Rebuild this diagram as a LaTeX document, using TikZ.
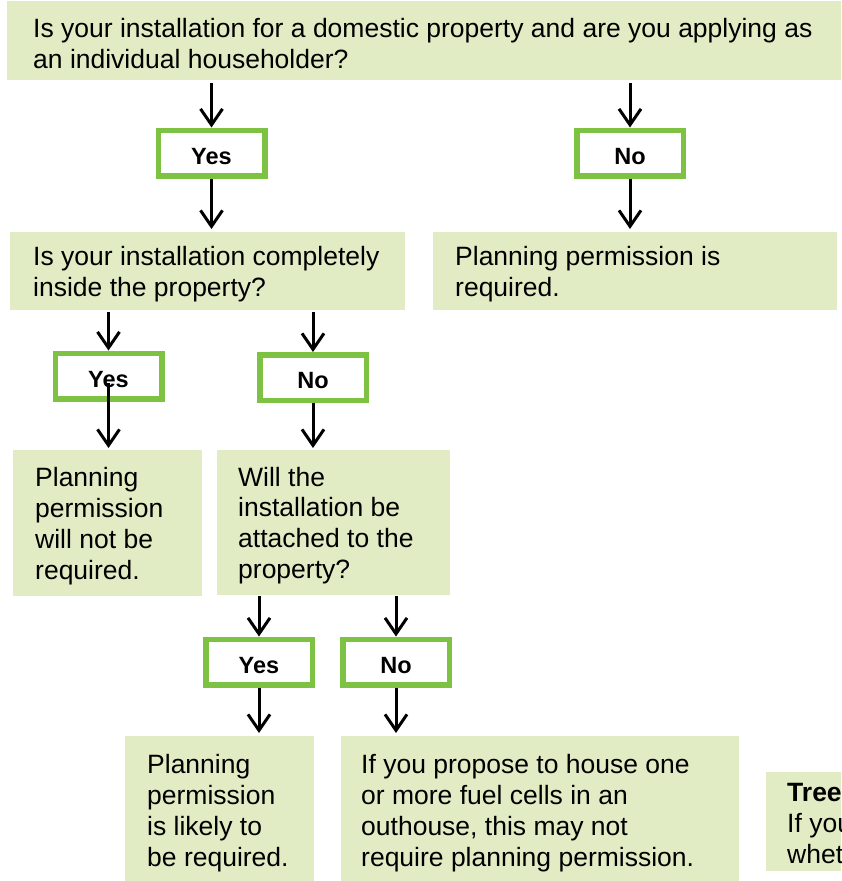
\documentclass[tikz,border=0pt]{standalone}
\usepackage{fontspec}
\setmainfont{Liberation Sans}
\usetikzlibrary{arrows.meta}
\definecolor{boxfill}{HTML}{E2ECC4}
\definecolor{boxgreen}{HTML}{7DC242}
\tikzset{
  pbox/.style={fill=boxfill, draw=none, inner sep=0pt, outer sep=0pt, rectangle},
  ptext/.style={inner sep=0pt, align=left, anchor=west, font=\fontsize{26.5}{30.8}\selectfont},
  yn/.style={draw=boxgreen, line width=5.5pt, fill=white, minimum width=106.5pt, minimum height=45.5pt, inner sep=0pt, text height=22.5pt, text depth=0pt, font=\fontsize{23.5}{27}\selectfont\bfseries},
  arr/.style={-{Straight Barb[length=16pt,width=22pt]}, line width=3pt}
}
\begin{document}
\begin{tikzpicture}[x=1pt,y=-1pt]
\clip (0,0) rectangle (841,881);
\useasboundingbox (0,0) rectangle (841,881);
% boxes
\node[pbox, minimum width=838pt, minimum height=79pt] (q1) at (426,40.5) {};
\node[ptext] (q1t) at ([xshift=26pt,yshift=-3pt]q1.west) {Is your installation for a domestic property and are you applying as\\an individual householder?};
\node[pbox, minimum width=395pt, minimum height=78pt] (q2) at (207.5,271) {};
\node[ptext] (q2t) at ([xshift=23pt,yshift=-3pt]q2.west) {Is your installation completely\\inside the property?};
\node[pbox, minimum width=404pt, minimum height=78pt] (r1) at (635,271) {};
\node[ptext] (r1t) at ([xshift=22pt,yshift=-3pt]r1.west) {Planning permission is\\required.};
\node[pbox, minimum width=189pt, minimum height=146pt] (a1) at (107.5,523) {};
\node[ptext] (a1t) at ([xshift=22pt,yshift=-3pt]a1.west) {Planning\\permission\\will not be\\required.};
\node[pbox, minimum width=233pt, minimum height=145pt] (q3) at (333.5,522.5) {};
\node[ptext] (q3t) at ([xshift=21pt,yshift=-3pt]q3.west) {Will the\\installation be\\attached to the\\property?};
\node[pbox, minimum width=189pt, minimum height=148pt] (a2) at (219.5,810) {};
\node[ptext] (a2t) at ([xshift=22pt,yshift=-3pt]a2.west) {Planning\\permission\\is likely to\\be required.};
\node[pbox, minimum width=398pt, minimum height=148pt] (a3) at (540,810) {};
\node[ptext] (a3t) at ([xshift=20pt,yshift=-3pt]a3.west) {If you propose to house one\\or more fuel cells in an\\outhouse, this may not\\require planning permission.};
\node[pbox, minimum width=80pt, minimum height=99pt] (tr) at (806,821.5) {};
\node[ptext] (trt) at ([xshift=21pt,yshift=-2pt]tr.west) {\textbf{Trees}\\If your\\whether};
% yes/no boxes
\node[yn] (yes1) at (211.5,153) {Yes};
\node[yn] (no1) at (630,153) {No};
\node[yn] (yes2) at (108.5,376) {Yes};
\node[yn] (no2) at (313,377.5) {No};
\node[yn] (yes3) at (259,662) {Yes};
\node[yn] (no3) at (396,662) {No};
% arrows
\draw[arr, shorten <=3pt] (q1.south -| yes1) -- (yes1.north);
\draw[arr, shorten <=3pt] (q1.south -| no1) -- (no1.north);
\draw[arr, shorten >=3pt] (yes1.south) -- (q2.north -| yes1);
\draw[arr, shorten >=3pt] (no1.south) -- (r1.north -| no1);
\draw[arr, shorten <=2pt] (q2.south -| yes2) -- (yes2.north);
\draw[arr, shorten <=2pt] (q2.south -| no2) -- (no2.north);
\draw[arr, shorten >=2pt] ([yshift=-7pt]yes2.center) -- (a1.north -| yes2);
\draw[arr, shorten >=2pt] (no2.south) -- (q3.north -| no2);
\draw[arr, shorten <=1pt] (q3.south -| yes3) -- (yes3.north);
\draw[arr, shorten <=1pt] (q3.south -| no3) -- (no3.north);
\draw[arr, shorten >=3pt] (yes3.south) -- (a2.north -| yes3);
\draw[arr, shorten >=3pt] (no3.south) -- (a3.north -| no3);
\end{tikzpicture}
\end{document}
